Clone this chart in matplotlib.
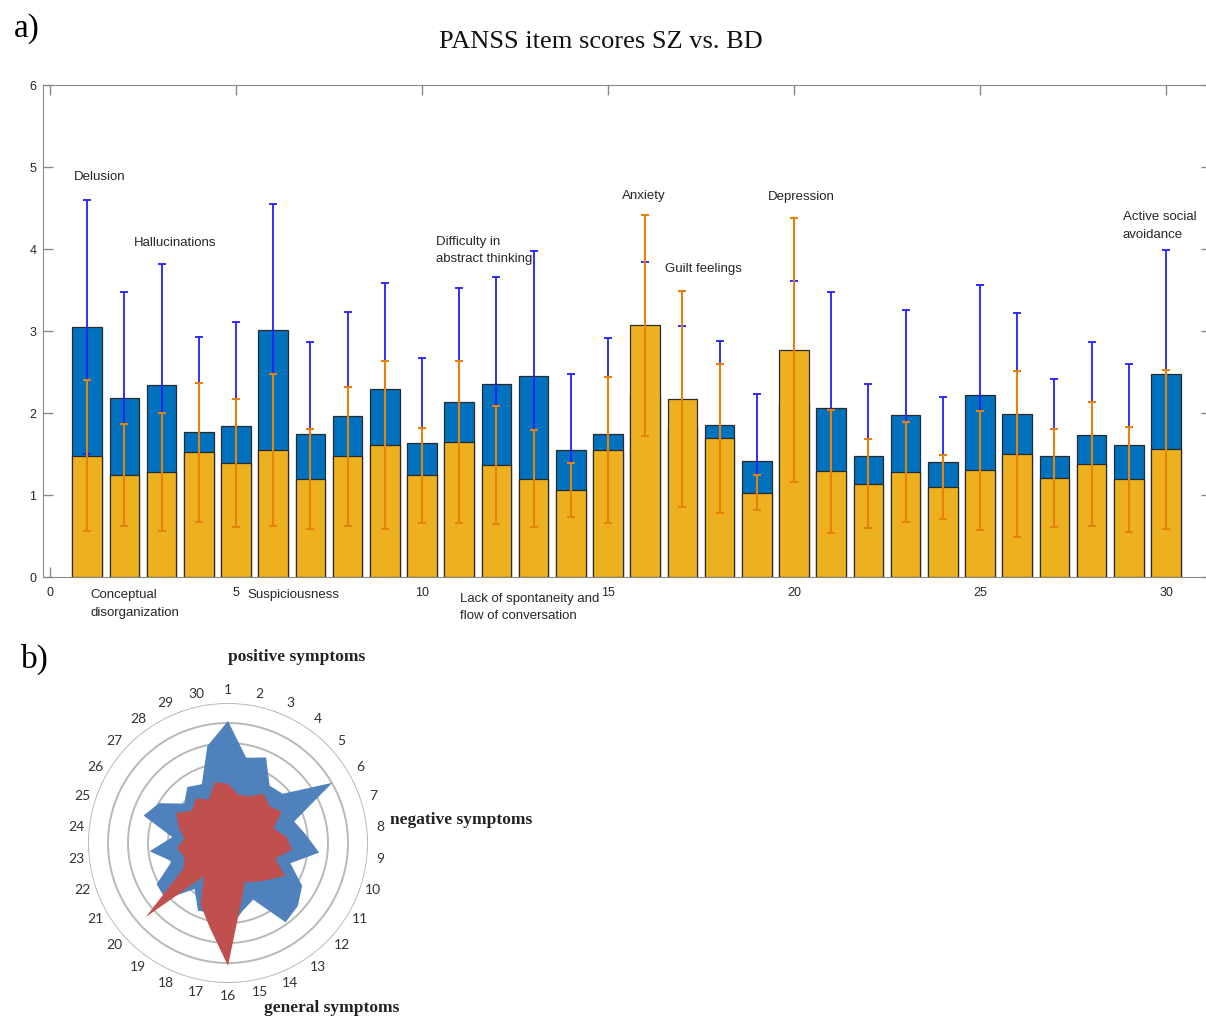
import numpy as np
import matplotlib
matplotlib.use("Agg")
import matplotlib.pyplot as plt

# PANSS items 1..30, means and SDs for SZ (blue) and BD (yellow)
items = np.arange(1, 31)
sz_mean = [3.05, 2.18, 2.34, 1.77, 1.84, 3.01, 1.74, 1.96, 2.29, 1.64,
           2.14, 2.35, 2.45, 1.55, 1.74, 2.20, 1.80, 1.85, 1.42, 2.10,
           2.06, 1.48, 1.97, 1.40, 2.22, 1.99, 1.47, 1.73, 1.61, 2.48]
sz_sd = [1.55, 1.29, 1.48, 1.16, 1.27, 1.54, 1.13, 1.27, 1.30, 1.03,
         1.38, 1.31, 1.53, 0.93, 1.18, 1.64, 1.26, 1.03, 0.81, 1.51,
         1.42, 0.87, 1.29, 0.79, 1.34, 1.23, 0.94, 1.14, 0.99, 1.51]
bd_mean = [1.48, 1.24, 1.28, 1.52, 1.39, 1.55, 1.20, 1.47, 1.61, 1.24,
           1.65, 1.37, 1.20, 1.06, 1.55, 3.07, 2.17, 1.69, 1.03, 2.77,
           1.29, 1.14, 1.28, 1.10, 1.30, 1.50, 1.21, 1.38, 1.19, 1.56]
bd_sd = [0.92, 0.62, 0.72, 0.85, 0.78, 0.93, 0.61, 0.85, 1.03, 0.58,
         0.99, 0.72, 0.59, 0.33, 0.89, 1.35, 1.32, 0.91, 0.21, 1.61,
         0.75, 0.54, 0.61, 0.39, 0.73, 1.01, 0.60, 0.76, 0.64, 0.97]

# annotations: (text, x, y, vertical alignment)
notes = [
    ("Delusion", 0.65, 4.88, "center"),
    ("Hallucinations", 2.26, 4.07, "center"),
    ("Conceptual\ndisorganization", 1.08, -0.15, "top"),
    ("Suspiciousness", 5.32, -0.15, "top"),
    ("Difficulty in\nabstract thinking", 10.38, 3.98, "center"),
    ("Lack of spontaneity and\nflow of conversation", 11.02, -0.19, "top"),
    ("Anxiety", 15.38, 4.65, "center"),
    ("Guilt feelings", 16.53, 3.76, "center"),
    ("Depression", 19.30, 4.63, "center"),
    ("Active social\navoidance", 28.84, 4.28, "center"),
]

BLUE = "#0072BD"
YELLOW = "#EDB120"
ERR_BLUE = "#2020FF"
ERR_ORANGE = "#E5820E"
GRAY = "#8a8a8a"
TXT = "#262626"

W, H = 1206, 1017
fig = plt.figure(figsize=(W / 100, H / 100), dpi=100)
plt.rcParams["font.family"] = ["Liberation Sans", "DejaVu Sans"]

# ---------- a) bar chart ----------
px_unit = 37.2
x0 = -0.18
x1 = 31.2
left_px = 50 + x0 * px_unit
right_px = 50 + x1 * px_unit
ax = fig.add_axes([left_px / W, 1 - 577 / H, (right_px - left_px) / W, 492 / H])

ax.bar(items, sz_mean, width=0.8, color=BLUE, edgecolor="#2a2a2a",
       linewidth=0.9, zorder=2)
ax.errorbar(items, sz_mean, yerr=sz_sd, fmt="none", ecolor=ERR_BLUE,
            elinewidth=1.3, capsize=3, capthick=1.3, zorder=3)
ax.bar(items, bd_mean, width=0.8, color=YELLOW, edgecolor="#2a2a2a",
       linewidth=0.9, zorder=4)
ax.errorbar(items, bd_mean, yerr=bd_sd, fmt="none", ecolor=ERR_ORANGE,
            elinewidth=1.5, capsize=3, capthick=1.5, zorder=5)

ax.set_xlim(x0, x1)
ax.set_ylim(0, 6)
ax.set_xticks(range(0, 31, 5))
ax.set_yticks(range(0, 7))
ax.tick_params(direction="in", length=7, color=GRAY, labelcolor=TXT,
               labelsize=9, top=True, right=True, width=1)
ax.tick_params(axis="x", pad=7)
ax.tick_params(axis="y", pad=5)
for side in ("left", "bottom", "top"):
    ax.spines[side].set_color(GRAY)
ax.spines["right"].set_visible(False)

for txt, x, y, va in notes:
    ax.text(x, y, txt, ha="left", va=va, fontsize=9.5, color=TXT,
            linespacing=1.6, clip_on=False, zorder=6)

fig.text(601 / W, 1 - 42 / H, "PANSS item scores SZ vs. BD",
         family="Liberation Serif", fontsize=19, ha="center", va="center",
         color="#111111")
fig.text(14 / W, 1 - 29 / H, "a)", family="Liberation Serif", fontsize=24,
         ha="left", va="center")
fig.text(21 / W, 1 - 659 / H, "b)", family="Liberation Serif", fontsize=24,
         ha="left", va="center")

# ---------- b) radar chart ----------
cx, cy, rad = 228, 843, 140
rmax = 3.5
pax = fig.add_axes([(cx - rad) / W, (H - cy - rad) / H, 2 * rad / W,
                    2 * rad / H], projection="polar")
pax.set_theta_zero_location("N")
pax.set_theta_direction(-1)
pax.set_ylim(0, rmax)
pax.grid(False)
pax.set_xticks([])
pax.set_yticks([])
pax.spines["polar"].set_visible(False)
pax.patch.set_alpha(0)

theta = 2 * np.pi * (items - 1) / 30
tt = np.append(theta, theta[0])
ring_t = np.linspace(0, 2 * np.pi, 400)
for r in np.arange(0.5, rmax + 0.01, 0.5):
    pax.plot(ring_t, np.full_like(ring_t, r), color="#b8b8b8", lw=1.4,
             zorder=1)
pax.fill(tt, np.append(sz_mean, sz_mean[0]), color="#4F81BD", zorder=2,
         lw=0)
pax.fill(tt, np.append(bd_mean, bd_mean[0]), color="#C0504D", zorder=3,
         lw=0)
for t, i in zip(theta, items):
    pax.text(t, 3.82, str(i), ha="center", va="center", fontsize=10,
             family="Lato", color="#333333", clip_on=False)

fig.text(228 / W, 1 - 657 / H, "positive symptoms",
         family="Liberation Serif", fontweight="bold", fontsize=12.5,
         ha="left", va="center", color="#222222")
fig.text(390 / W, 1 - 820 / H, "negative symptoms",
         family="Liberation Serif", fontweight="bold", fontsize=12.5,
         ha="left", va="center", color="#222222")
fig.text(264 / W, 1 - 1008 / H, "general symptoms",
         family="Liberation Serif", fontweight="bold", fontsize=12.5,
         ha="left", va="center", color="#222222")

fig.savefig("out.png", dpi=100)
